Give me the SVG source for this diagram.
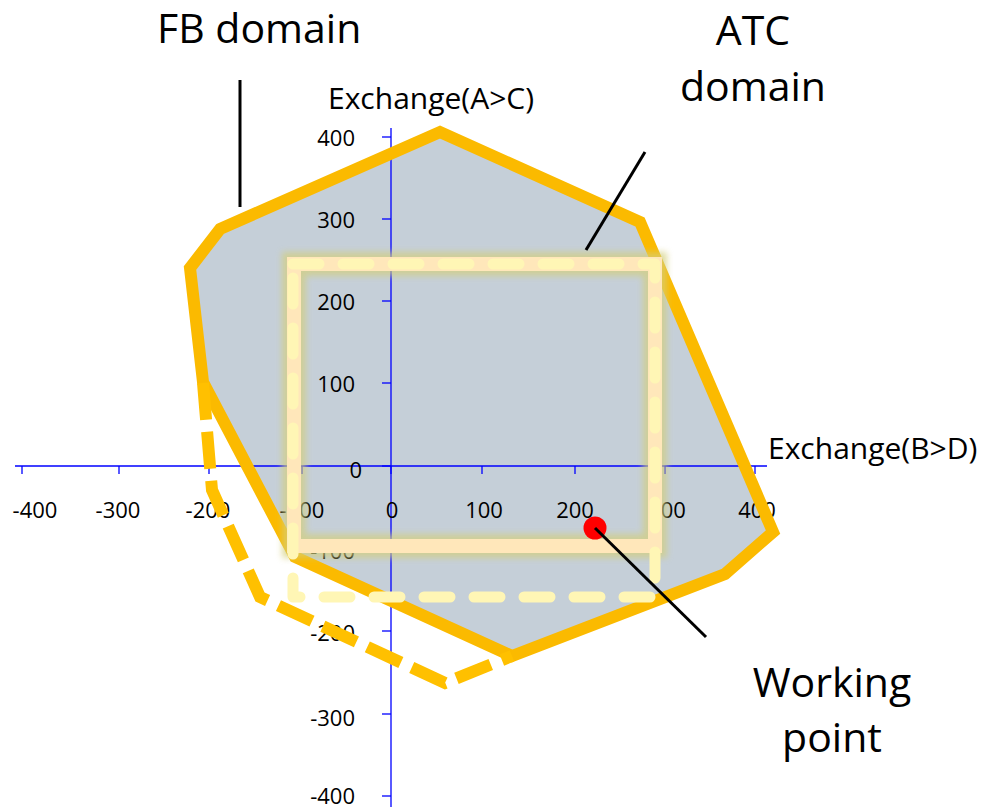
<svg xmlns="http://www.w3.org/2000/svg" width="984" height="811" viewBox="0 0 984 811">
<style>
  text { font-family: "Open Sans", "Noto Sans", "DejaVu Sans", sans-serif; fill: #000; }
  .tick { font-size: 22px; }
  .ylab { text-anchor: end; }
  .xlab { text-anchor: middle; }
  .title { font-size: 30px; }
  .big { font-size: 41px; }
  .axis { stroke: #0000FF; stroke-width: 1.3; fill: none; }
  .lead { stroke: #000; stroke-width: 3; fill: none; }
  .fb { stroke: #FBBA00; stroke-width: 12; fill: none; stroke-linejoin: miter; }
  .fbdash { stroke: #FFC000; stroke-width: 12; fill: none; stroke-dasharray: 37 12; }
</style>
<defs>
  <filter id="blur" x="-10%" y="-10%" width="120%" height="120%">
    <feGaussianBlur stdDeviation="3"/>
  </filter>
</defs>

<g id="fb-fill">
  <path d="M220,229 L440,132 L640,222 L773,532 L725,574 L512,656 L295,557 L203,382 L190,268 Z" fill="#C5CFD8"/>
</g>

<g id="axes">
  <line class="axis" x1="15" y1="466" x2="767" y2="466"/>
  <line class="axis" x1="391" y1="128" x2="391" y2="807"/>
  <g id="xticks">
    <line class="axis" x1="22" y1="466" x2="22" y2="474"/>
    <line class="axis" x1="119" y1="466" x2="119" y2="474"/>
    <line class="axis" x1="209" y1="466" x2="209" y2="474"/>
    <line class="axis" x1="302" y1="466" x2="302" y2="474"/>
    <line class="axis" x1="391" y1="466" x2="391" y2="474"/>
    <line class="axis" x1="482" y1="466" x2="482" y2="474"/>
    <line class="axis" x1="575" y1="466" x2="575" y2="474"/>
    <line class="axis" x1="665" y1="466" x2="665" y2="474"/>
    <line class="axis" x1="755" y1="466" x2="755" y2="474"/>
  </g>
  <g id="yticks">
    <line class="axis" x1="382" y1="137" x2="391" y2="137"/>
    <line class="axis" x1="382" y1="219" x2="391" y2="219"/>
    <line class="axis" x1="382" y1="301" x2="391" y2="301"/>
    <line class="axis" x1="382" y1="383" x2="391" y2="383"/>
    <line class="axis" x1="382" y1="466" x2="391" y2="466"/>
    <line class="axis" x1="382" y1="548" x2="391" y2="548"/>
    <line class="axis" x1="382" y1="631" x2="391" y2="631"/>
    <line class="axis" x1="382" y1="714" x2="391" y2="714"/>
    <line class="axis" x1="382" y1="796" x2="391" y2="796"/>
  </g>
</g>

<g id="tick-labels" class="tick">
  <text class="ylab" x="355" y="146">400</text>
  <text class="ylab" x="355" y="228">300</text>
  <text class="ylab" x="355" y="310">200</text>
  <text class="ylab" x="355" y="392">100</text>
  <text class="ylab" x="362" y="478">0</text>
  <text class="ylab" x="355" y="559">-100</text>
  <text class="ylab" x="355" y="641">-200</text>
  <text class="ylab" x="355" y="726">-300</text>
  <text class="ylab" x="355" y="804">-400</text>
  <text class="xlab" x="35" y="518">-400</text>
  <text class="xlab" x="118" y="518">-300</text>
  <text class="xlab" x="208" y="518">-200</text>
  <text class="xlab" x="302" y="518">-100</text>
  <text class="xlab" x="392" y="518">0</text>
  <text class="xlab" x="484" y="518">100</text>
  <text class="xlab" x="575" y="518">200</text>
  <text class="xlab" x="667" y="518">300</text>
  <text class="xlab" x="757" y="518">400</text>
</g>

<g id="axis-titles" class="title">
  <text x="328" y="109">Exchange(A&gt;C)</text>
  <text x="768" y="459">Exchange(B&gt;D)</text>
</g>

<g id="fb-domain">
  <path class="fb" d="M220,229 L440,132 L640,222 L773,532 L725,574 L512,656 L295,557 L203,382 L190,268 Z"/>
  <path class="fbdash" d="M203,383 L212,490 L260,597 L445,683 L512,656"/>
</g>

<g id="atc-domain">
  <rect x="294" y="264" width="361" height="282" fill="none" stroke="#D3CF7C" stroke-width="24" opacity="0.7" filter="url(#blur)"/>
  <rect x="294" y="264" width="361" height="282" fill="none" stroke="#FFE7BA" stroke-width="14"/>
  <path d="M293,264 H655 V597 H293 Z" fill="none" stroke="#FFF6B5" stroke-width="11" stroke-linecap="round" stroke-linejoin="round" stroke-dasharray="26 24"/>
</g>

<g id="working-point">
  <circle cx="595" cy="528" r="11.5" fill="#FF0000"/>
</g>

<g id="connectors">
  <line class="lead" x1="240" y1="80" x2="240" y2="207"/>
  <line class="lead" x1="645" y1="152" x2="586" y2="250"/>
  <line class="lead" x1="595" y1="528" x2="706" y2="637"/>
</g>

<g id="labels" class="big">
  <text x="157" y="43">FB domain</text>
  <text x="753" y="45" text-anchor="middle">ATC</text>
  <text x="753" y="101" text-anchor="middle">domain</text>
  <text x="832" y="697" text-anchor="middle">Working</text>
  <text x="832" y="752" text-anchor="middle">point</text>
</g>
</svg>
